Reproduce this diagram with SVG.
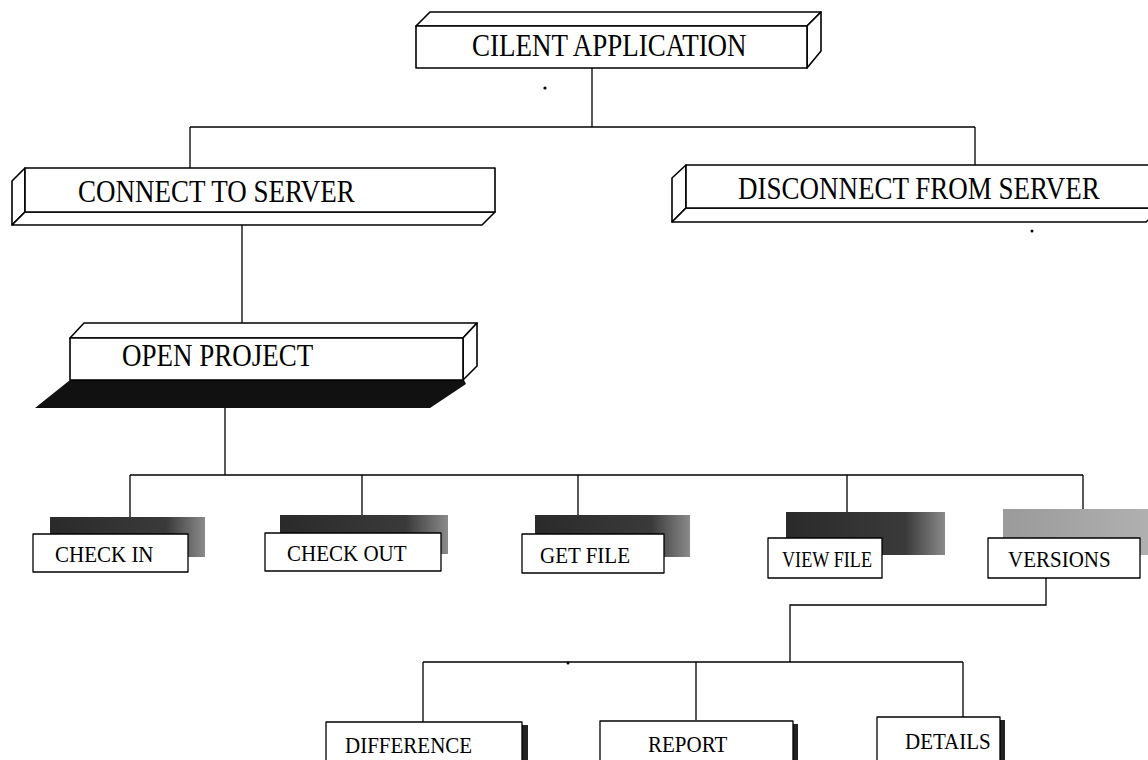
<svg xmlns="http://www.w3.org/2000/svg" width="1148" height="760" viewBox="0 0 1148 760">
<defs>
<linearGradient id="shd" x1="0" y1="0" x2="1" y2="0">
<stop offset="0" stop-color="#2a2a2a"/>
<stop offset="0.75" stop-color="#3a3a3a"/>
<stop offset="1" stop-color="#8a8a8a"/>
</linearGradient>
<linearGradient id="shdl" x1="0" y1="0" x2="1" y2="0">
<stop offset="0" stop-color="#9a9a9a"/>
<stop offset="1" stop-color="#b0b0b0"/>
</linearGradient>
</defs>
<style>
.f{fill:#fff;stroke:#000;stroke-width:1.6;stroke-linejoin:round}
.s{fill:#fff;stroke:#000;stroke-width:1.3;stroke-linejoin:round}
.t{font-family:"Liberation Serif","Times New Roman",serif;font-size:27px;fill:#000}
.u{font-family:"Liberation Serif","Times New Roman",serif;font-size:21px;fill:#000}
.c{fill:none;stroke:#000;stroke-width:1.3}
</style>
<rect width="1148" height="760" fill="#fff"/>
<g id="connectors">
<path class="c" d="M592,68V127M190,127H975M190,127V168M975,127V165"/>
<path class="c" d="M242,225V323"/>
<path class="c" d="M225,408V475M130,475H1083M130,475V517M362,475V515M578,475V515M847,475V512M1083,475V509"/>
<path class="c" d="M1046,578V605H790V662M423,662H963M423,662V722M696,662V720M963,662V717"/>
<circle cx="545" cy="88" r="1.6" fill="#000"/>
<circle cx="1032" cy="231" r="1.5" fill="#000"/>
<circle cx="568" cy="663" r="1.5" fill="#000"/>
</g>
<g id="client-application">
<polygon class="f" points="416,26 430,12 821,12 807,26"/>
<polygon class="f" points="807,26 821,12 821,51 807,68"/>
<rect class="f" x="416" y="26" width="391" height="42"/>
<text class="t" transform="translate(472,56) scale(1,1.15)">CILENT APPLICATION</text>
</g>
<g id="connect-to-server">
<polygon class="f" points="25,168 12,181 12,225 25,212"/>
<polygon class="f" points="25,212 495,212 482,225 12,225"/>
<rect class="f" x="25" y="168" width="470" height="44"/>
<text class="t" transform="translate(78,202) scale(1,1.15)">CONNECT TO SERVER</text>
</g>
<g id="disconnect-from-server">
<polygon class="f" points="686,165 672,178 672,222 686,208"/>
<polygon class="f" points="686,208 1162,208 1146,222 672,222"/>
<rect class="f" x="686" y="165" width="476" height="43"/>
<text class="t" transform="translate(738,199) scale(1,1.15)">DISCONNECT FROM SERVER</text>
</g>
<g id="open-project">
<polygon fill="#111" points="70,380 464,380 466,384 430,408 35,408"/>
<polygon class="f" points="70,338 84,323 477,323 463,338"/>
<polygon class="f" points="463,338 477,323 477,366 463,380"/>
<rect class="f" x="70" y="338" width="393" height="42"/>
<text class="t" transform="translate(122,366) scale(1,1.15)" font-size="28">OPEN PROJECT</text>
</g>
<g id="check-in">
<rect x="50" y="517" width="155" height="40" fill="url(#shd)"/>
<rect class="s" x="33" y="534" width="155" height="38"/>
<text class="u" transform="translate(55,562) scale(1,1.1)">CHECK IN</text>
</g>
<g id="check-out">
<rect x="280" y="515" width="168" height="39" fill="url(#shd)"/>
<rect class="s" x="265" y="533" width="176" height="38"/>
<text class="u" transform="translate(287,561) scale(1,1.1)">CHECK OUT</text>
</g>
<g id="get-file">
<rect x="535" y="515" width="155" height="42" fill="url(#shd)"/>
<rect class="s" x="522" y="534" width="142" height="39"/>
<text class="u" transform="translate(540,563) scale(1,1.1)">GET FILE</text>
</g>
<g id="view-file">
<rect x="786" y="512" width="159" height="43" fill="url(#shd)"/>
<rect class="s" x="768" y="538" width="114" height="40"/>
<text class="u" transform="translate(782,567) scale(1,1.1)" textLength="90" lengthAdjust="spacingAndGlyphs">VIEW FILE</text>
</g>
<g id="versions">
<rect x="1003" y="509" width="145" height="46" fill="url(#shdl)"/>
<rect class="s" x="988" y="538" width="152" height="40"/>
<text class="u" transform="translate(1008,567) scale(1,1.1)">VERSIONS</text>
</g>
<g id="difference">
<rect x="522" y="725" width="6" height="40" fill="#222"/>
<rect class="s" x="326" y="722" width="196" height="45"/>
<text class="u" transform="translate(345,753) scale(1,1.1)">DIFFERENCE</text>
</g>
<g id="report">
<rect x="793" y="724" width="5" height="40" fill="#222"/>
<rect class="s" x="600" y="721" width="193" height="45"/>
<text class="u" transform="translate(648,752) scale(1,1.1)">REPORT</text>
</g>
<g id="details">
<rect x="1000" y="720" width="5" height="40" fill="#222"/>
<rect class="s" x="877" y="717" width="123" height="45"/>
<text class="u" transform="translate(905,749) scale(1,1.1)">DETAILS</text>
</g>
</svg>
